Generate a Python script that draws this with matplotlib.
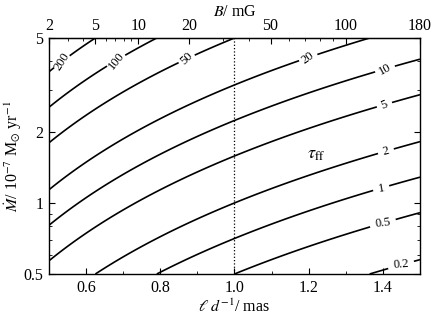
import numpy as np
import matplotlib
matplotlib.use("Agg")
import matplotlib.pyplot as plt
from matplotlib.ticker import FixedLocator, NullFormatter, FixedFormatter

plt.rcParams["font.family"] = ["Liberation Serif", "DejaVu Serif"]
plt.rcParams["mathtext.fontset"] = "stix"

# contour levels of tau_ff
levels = [0.2, 0.5, 1, 2, 5, 10, 20, 50, 100, 200]
level_labels = ["0.2", "0.5", "1", "2", "5", "10", "20", "50", "100", "200"]

# fitted model tau_ff = tau0 * Mdot^a * (l/d)^b
tau0 = 2.0
a_mdot = 2.0
b_ld = -2.95

# top axis: B in mG, 2 at l/d=0.5, 180 at l/d=1.5
b_ticks = [2, 5, 10, 20, 50, 100, 180]
b_minor = [3, 4, 6, 7, 8, 9, 30, 40, 60, 70, 80, 90]
b_left, b_right = 2.0, 180.0

x_ticks = [0.6, 0.8, 1.0, 1.2, 1.4]
y_ticks = [0.5, 1, 2, 5]

# label spots (x, Mdot) for the inline contour labels
label_spots = [(0.538, 3.96), (0.678, 4.03), (0.867, 4.11), (1.201, 4.11),
               (1.403, 3.73), (1.403, 2.63), (1.408, 1.66), (1.395, 1.17),
               (1.400, 0.82), (1.449, 0.546)]

xmin, xmax = 0.5, 1.5
ymin, ymax = 0.5, 5.0
p_b = np.log(b_right / b_left) / np.log(xmax / xmin)


def x_to_b(x):
    return b_left * (np.asarray(x) / xmin) ** p_b


def b_to_x(b):
    return xmin * (np.asarray(b) / b_left) ** (1.0 / p_b)


xx = np.linspace(xmin, xmax, 300)
yy = np.logspace(np.log10(ymin), np.log10(ymax), 300)
X, Y = np.meshgrid(xx, yy)
tau = tau0 * Y ** a_mdot * X ** b_ld

fig = plt.figure(figsize=(4.32, 3.19), dpi=100)
ax = fig.add_axes([0.1134, 0.1411, 0.8588, 0.7398])

cs = ax.contour(X, Y, tau, levels=levels, colors="black", linewidths=1.2)
fmt = dict(zip(cs.levels, level_labels))
ax.clabel(cs, fmt=fmt, fontsize=9, inline=True, inline_spacing=5,
          manual=label_spots)

ax.axvline(1.0, color="black", ls=":", lw=0.9)

ax.text(1.22, 1.6, r"$\tau_{\rm ff}$", fontsize=13, ha="center", va="center")

ax.set_xlim(xmin, xmax)
ax.set_yscale("log")
ax.set_ylim(ymin, ymax)
ax.set_xticks(x_ticks)
ax.set_xticks(np.arange(0.5, 1.51, 0.1), minor=True)
ax.set_yticks(y_ticks)
ax.set_yticklabels(["0.5", "1", "2", "5"])
ax.yaxis.set_minor_formatter(NullFormatter())
ax.tick_params(which="both", direction="in", top=False, right=True, labelsize=11.5)
ax.tick_params(which="major", length=4, pad=4)
ax.tick_params(which="minor", length=2)

ax.set_xlabel(r"$\ell\;d^{-1}$/ mas", fontsize=11.5, labelpad=2)
ax.set_ylabel(r"$\dot{M}$/ 10$^{-7}$ M$_{\odot}$ yr$^{-1}$", fontsize=11.5, labelpad=0)

top = ax.secondary_xaxis("top", functions=(x_to_b, b_to_x))
top.xaxis.set_major_locator(FixedLocator(b_ticks))
top.xaxis.set_major_formatter(FixedFormatter([str(b) for b in b_ticks]))
top.xaxis.set_minor_locator(FixedLocator(b_minor))
top.xaxis.set_minor_formatter(NullFormatter())
top.tick_params(which="both", direction="in", labelsize=11.5)
top.tick_params(which="major", length=4, pad=3)
top.tick_params(which="minor", length=2)
top.set_xlabel(r"$B$/ mG", fontsize=11.5, labelpad=1)

for s in ax.spines.values():
    s.set_linewidth(1.0)

fig.savefig("out.png", dpi=100)
